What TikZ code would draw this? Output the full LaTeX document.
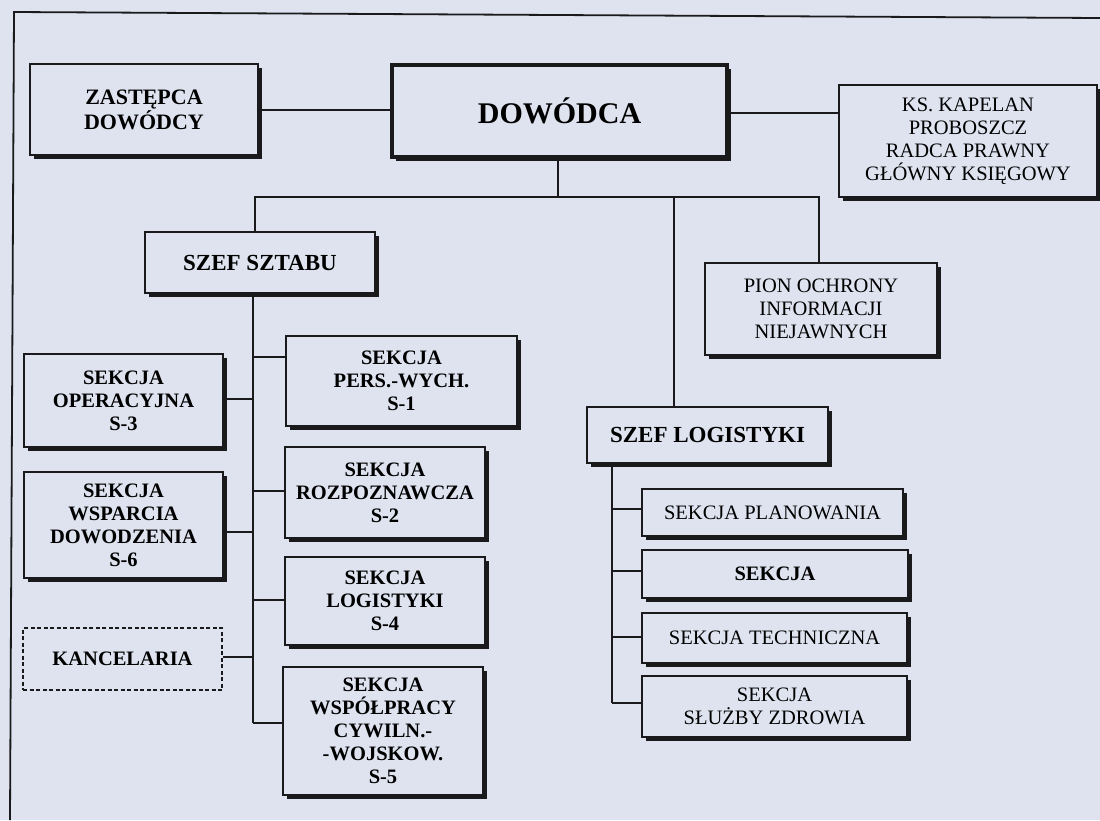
\documentclass[tikz,border=0pt]{standalone}
\usepackage{fontspec}
\setmainfont{Liberation Serif}
\usetikzlibrary{shadows}
\definecolor{paper}{RGB}{222,227,239}
\definecolor{ink}{RGB}{26,26,28}
\begin{document}
\begin{tikzpicture}[x=1pt,y=-1pt,
  orgbox/.style={draw=ink, line width=2pt, fill=paper, inner sep=0pt, align=center,
    drop shadow={shadow xshift=3.5pt, shadow yshift=-3.5pt, fill=ink, opacity=1},
    font=\bfseries\fontsize{20.5}{23}\selectfont},
  plainbox/.style={orgbox, font=\fontsize{20.5}{23}\selectfont},
  dashbox/.style={draw=ink, line width=2pt, dashed, dash pattern=on 4pt off 2.5pt, fill=paper, inner sep=0pt, align=center,
    font=\bfseries\fontsize{20.5}{23}\selectfont},
  conn/.style={draw=ink, line width=1.1pt},
  frameline/.style={draw=ink, line width=1.8pt}]
\fill[paper] (0,0) rectangle (1100,820);
\useasboundingbox (0,0) rectangle (1100,820);

% outer frame (cut by the page edges)
\coordinate (frTR) at (1100,18);
\coordinate (frTL) at (14,12);
\coordinate (frBL) at (10,820);
\draw[frameline] (frTR) -- (frTL) -- (frBL);

% top level
\node[orgbox, minimum width=228pt, minimum height=91pt, font=\bfseries\fontsize{22}{25}\selectfont] (zas) at (144,109.5) {ZASTĘPCA\\DOWÓDCY};
\node[orgbox, line width=3.8pt, minimum width=335pt, minimum height=92pt, font=\bfseries\fontsize{30}{34}\selectfont] (dow) at (559.5,111) {DOWÓDCA};
\node[plainbox, minimum width=258pt, minimum height=112pt] (ks) at (968,141) {KS. KAPELAN\\PROBOSZCZ\\RADCA PRAWNY\\GŁÓWNY KSIĘGOWY};

% second level
\node[orgbox, minimum width=230pt, minimum height=61pt, font=\bfseries\fontsize{23}{26}\selectfont] (ssz) at (260,262.5) {SZEF SZTABU};
\node[plainbox, minimum width=232pt, minimum height=92pt] (pion) at (821,309) {PION OCHRONY\\INFORMACJI\\NIEJAWNYCH};
\node[orgbox, minimum width=241pt, minimum height=56pt, font=\bfseries\fontsize{23}{26}\selectfont] (slog) at (707.5,435) {SZEF LOGISTYKI};

% staff sections
\node[orgbox, minimum width=231pt, minimum height=90pt] (s1) at (401.5,381) {SEKCJA\\PERS.-WYCH.\\S-1};
\node[orgbox, minimum width=200pt, minimum height=91pt] (s2) at (385,492.5) {SEKCJA\\ROZPOZNAWCZA\\S-2};
\node[orgbox, minimum width=200pt, minimum height=88pt] (s4) at (385,601) {SEKCJA\\LOGISTYKI\\S-4};
\node[orgbox, minimum width=200pt, minimum height=128pt] (s5) at (383,731) {SEKCJA\\WSPÓŁPRACY\\CYWILN.-\\-WOJSKOW.\\S-5};
\node[orgbox, minimum width=199pt, minimum height=93pt] (s3) at (123.5,400.5) {SEKCJA\\OPERACYJNA\\S-3};
\node[orgbox, minimum width=199pt, minimum height=106pt] (s6) at (123.5,525) {SEKCJA\\WSPARCIA\\DOWODZENIA\\S-6};
\node[dashbox, minimum width=199pt, minimum height=62pt] (kanc) at (122.5,659) {KANCELARIA};

% logistics sections
\node[plainbox, minimum width=261pt, minimum height=47pt] (plan) at (772.5,512.5) {SEKCJA PLANOWANIA};
\node[orgbox, minimum width=266pt, minimum height=48pt] (sek) at (775,574) {SEKCJA};
\node[plainbox, minimum width=265pt, minimum height=50pt] (tech) at (774.5,638) {SEKCJA TECHNICZNA};
\node[plainbox, minimum width=265pt, minimum height=61pt] (zdr) at (774.5,706.5) {SEKCJA\\SŁUŻBY ZDROWIA};

% top connectors
\coordinate (zasj) at (258,110);
\draw[conn] (zasj -| zas.east) -- (zasj -| dow.west);
\coordinate (ksj) at (727,113);
\draw[conn] (ksj -| dow.east) -- (ksj -| ks.west);

% bus below the commander
\coordinate (busD) at (558,197);
\coordinate (busL) at (255,197);
\coordinate (busM) at (674,197);
\coordinate (busR) at (819,197);
\draw[conn] (busD |- dow.south) -- (busD);
\draw[conn] (busL |- ssz.north) -- (busL) -- (busR) -- (busR |- pion.north);
\draw[conn] (busM) -- (busM |- slog.north);

% staff spine
\coordinate (sp1) at (253,357);
\coordinate (sp3) at (253,399);
\coordinate (sp2) at (253,491);
\coordinate (sp6) at (253,532);
\coordinate (sp4) at (253,600);
\coordinate (spk) at (253,657);
\coordinate (sp5) at (253,723);
\draw[conn] (sp1 |- ssz.south) -- (sp5);
\draw[conn] (sp1) -- (sp1 -| s1.west);
\draw[conn] (sp2) -- (sp2 -| s2.west);
\draw[conn] (sp4) -- (sp4 -| s4.west);
\draw[conn] (sp5) -- (sp5 -| s5.west);
\draw[conn] (sp3) -- (sp3 -| s3.east);
\draw[conn] (sp6) -- (sp6 -| s6.east);
\draw[conn] (spk) -- (spk -| kanc.east);

% logistics spine
\coordinate (lp1) at (612,509);
\coordinate (lp2) at (612,571);
\coordinate (lp3) at (612,637);
\coordinate (lp4) at (612,703);
\draw[conn] (lp1 |- slog.south) -- (lp4);
\draw[conn] (lp1) -- (lp1 -| plan.west);
\draw[conn] (lp2) -- (lp2 -| sek.west);
\draw[conn] (lp3) -- (lp3 -| tech.west);
\draw[conn] (lp4) -- (lp4 -| zdr.west);
\end{tikzpicture}
\end{document}
